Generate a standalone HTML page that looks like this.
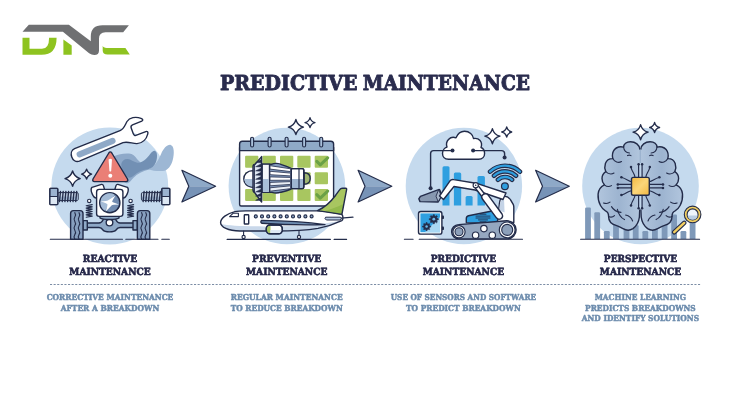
<!DOCTYPE html>
<html lang="en">
<head>
<meta charset="utf-8">
<title>Predictive Maintenance</title>
<style>
html,body{margin:0;padding:0;background:#fff;}
body{width:750px;height:400px;overflow:hidden;}
svg{display:block;will-change:transform;}
text{text-rendering:geometricPrecision;}
.t{font-family:"DejaVu Serif","Liberation Serif",serif;font-weight:bold;fill:#2a2c4e;text-anchor:middle;stroke:#2a2c4e;stroke-width:0.9;stroke-linejoin:round;}
.l{font-family:"DejaVu Serif","Liberation Serif",serif;font-weight:bold;fill:#26284a;text-anchor:middle;font-size:9.8px;stroke:#26284a;stroke-width:0.6;stroke-linejoin:round;}
.d{font-family:"DejaVu Serif","Liberation Serif",serif;font-weight:bold;fill:#6d8cad;text-anchor:middle;font-size:8.2px;stroke:#6d8cad;stroke-width:0.45;stroke-linejoin:round;}
.o{stroke:#222b49;stroke-width:1.4;stroke-linejoin:round;stroke-linecap:round;}
</style>
</head>
<body>
<svg width="750" height="400" viewBox="0 0 750 400">
<rect width="750" height="400" fill="#ffffff"/>
<g id="logo">
<path d="M28.8 24.8 H68.9 L90.8 41.3 V36.5 Q90.8 25.2 102.5 25.2 H128.9 L123.2 32.3 H105.5 Q99 32.3 99 38.8 V50.5 Q99 55 94.3 55 Q91.5 55 89.1 53.2 L62.9 31.8 H22.5 Z" fill="#6f7072"/>
<path d="M22.5 37.8 H29.5 V48.8 H42 Q49.1 48.8 49.1 37.8 H56.6 Q56.6 54.85 41.5 54.85 H22.5 Z" fill="#8ec320"/>
<path d="M63.4 39.4 L71.7 45.6 V54.85 H63.4 Z" fill="#8ec320"/>
<path d="M102.7 45.8 Q103.3 47.9 106.7 47.9 H125.4 L129.8 54.6 H107.5 Q102.7 54.6 102.7 50.5 Z" fill="#8ec320"/>
</g>
<text class="t" y="89.8" font-size="20.6" style="text-anchor:start"><tspan x="220" textLength="137.4" lengthAdjust="spacingAndGlyphs">PREDICTIVE</tspan> <tspan x="362.7" textLength="167.4" lengthAdjust="spacingAndGlyphs">MAINTENANCE</tspan></text>
<line x1="50" y1="284.5" x2="701.5" y2="284.5" stroke="#7c8da5" stroke-width="1.2" stroke-dasharray="2.1 1.5"/>
<text class="l" x="110" y="262.1" textLength="54.4" lengthAdjust="spacingAndGlyphs">REACTIVE</text>
<text class="l" x="110" y="274.8" textLength="81.4" lengthAdjust="spacingAndGlyphs">MAINTENANCE</text>
<text class="l" x="286.7" y="262.1" textLength="69.3" lengthAdjust="spacingAndGlyphs">PREVENTIVE</text>
<text class="l" x="286.7" y="274.8" textLength="81.4" lengthAdjust="spacingAndGlyphs">MAINTENANCE</text>
<text class="l" x="463.4" y="262.1" textLength="65.3" lengthAdjust="spacingAndGlyphs">PREDICTIVE</text>
<text class="l" x="463.4" y="274.8" textLength="81.4" lengthAdjust="spacingAndGlyphs">MAINTENANCE</text>
<text class="l" x="640.5" y="262.1" textLength="73.3" lengthAdjust="spacingAndGlyphs">PERSPECTIVE</text>
<text class="l" x="640.5" y="274.8" textLength="81.4" lengthAdjust="spacingAndGlyphs">MAINTENANCE</text>
<text class="d" x="110" y="299.6" textLength="126.7" lengthAdjust="spacingAndGlyphs">CORRECTIVE MAINTENANCE</text>
<text class="d" x="110" y="310.5" textLength="98.6" lengthAdjust="spacingAndGlyphs">AFTER A BREAKDOWN</text>
<text class="d" x="286.7" y="299.6" textLength="112" lengthAdjust="spacingAndGlyphs">REGULAR MAINTENANCE</text>
<text class="d" x="286.7" y="310.5" textLength="112" lengthAdjust="spacingAndGlyphs">TO REDUCE BREAKDOWN</text>
<text class="d" x="463.4" y="299.6" textLength="145.3" lengthAdjust="spacingAndGlyphs">USE OF SENSORS AND SOFTWARE</text>
<text class="d" x="463.4" y="310.5" textLength="114.7" lengthAdjust="spacingAndGlyphs">TO PREDICT BREAKDOWN</text>
<text class="d" x="640.4" y="299.6" textLength="91.5" lengthAdjust="spacingAndGlyphs">MACHINE LEARNING</text>
<text class="d" x="640.4" y="310.5" textLength="110.7" lengthAdjust="spacingAndGlyphs">PREDICTS BREAKDOWNS</text>
<text class="d" x="640.4" y="321.4" textLength="117.3" lengthAdjust="spacingAndGlyphs">AND IDENTIFY SOLUTIONS</text>
<g id="ill1">
<circle cx="109.8" cy="186" r="58.4" fill="#c5daee"/>
<path d="M148.5 169.2 C154.5 167.2 158.2 160.5 161.2 153.7 C163.5 148.5 167.2 144.3 170.7 144.9 C174.3 145.8 174.4 153.7 172.8 159.7 C171.3 165.7 168.0 170.4 162.7 171.0 C157.5 171.4 152.2 170.7 148.5 169.2 Z" fill="#9db7d4"/>
<path d="M111.0 157.5 C117.0 154.5 123.0 153.3 129.0 153.6 C132.7 153.7 135.0 156.0 137.2 159.3 C141.0 162.7 147.0 169.5 150.0 169.2 C142.5 171.0 137.2 174.0 133.5 177.7 C131.2 180.0 129.7 182.7 127.5 183.3 C123.0 183.3 114.0 172.5 111.0 157.5 Z" fill="#8ea9c9"/>
<path d="M121.2 164.2 C121.8 160.8 124.5 158.7 127.8 159.0 C130.8 159.3 133.5 162.0 137.2 162.7 C141.7 163.5 146.2 159.0 150.0 154.2 C151.8 151.8 153.7 150.3 155.2 150.9 C157.5 152.1 157.5 157.5 156.0 162.0 C154.5 166.2 151.5 168.7 147.7 169.2 C141.7 169.8 137.2 172.5 134.2 175.2 C132.0 177.3 129.0 178.5 127.5 177.0 C124.5 174.0 121.2 168.7 121.2 164.2 Z" fill="#7290b4"/>
<path d="M50.3 239.3 H122.5 M125.8 239.3 H158 M161.8 239.3 H169.3" stroke="#242d4b" stroke-width="1.1" fill="none" stroke-linecap="round"/>
<path class="o" d="M74.6 148.6 L120 130.6 C124 129 125 125 127 121.5 C129.5 117.5 135.5 116.3 141 118.3 C143 119 143.3 120.6 141.8 121.2 L132.5 124.8 C131 125.4 130.7 126.5 131.2 128 L133.2 133.6 C133.8 135.3 135 135.8 136.5 135.2 L145.8 131.6 C147.3 131 148.3 132 147.8 133.8 C146.5 139 142.5 143.3 137 143.6 C132.5 143.8 128 141 123 142.6 L79.4 161.1 C72 164 68 151.4 74.6 148.6 Z" fill="#fff"/>
<path d="M79.6 154.4 L112.6 140.9" stroke="#8fa9c7" stroke-width="6" stroke-linecap="round" fill="none"/>
<path class="o" d="M72.6 171.0 Q74.27199999999999 176.928 80.19999999999999 178.6 Q74.27199999999999 180.272 72.6 186.2 Q70.928 180.272 65.0 178.6 Q70.928 176.928 72.6 171.0 Z" fill="#fff"/>
<path class="o" d="M86.6 169.1 Q87.69999999999999 173.0 91.6 174.1 Q87.69999999999999 175.2 86.6 179.1 Q85.5 175.2 81.6 174.1 Q85.5 173.0 86.6 169.1 Z" fill="#fff"/>
<rect x="57.8" y="192.6" width="20.400000000000006" height="7.8" rx="1.2" fill="#c3d3e6" stroke="#242d4b" stroke-width="1"/><rect x="58.3" y="196.6" width="19.400000000000006" height="3.3" fill="#9fb6d2"/><path d="M60.50 191.4 L59.50 201.6" stroke="#242d4b" stroke-width="1.35" fill="none" stroke-linecap="round"/><path d="M63.20 191.4 L62.20 201.6" stroke="#242d4b" stroke-width="1.35" fill="none" stroke-linecap="round"/><path d="M65.90 191.4 L64.90 201.6" stroke="#242d4b" stroke-width="1.35" fill="none" stroke-linecap="round"/><path d="M68.60 191.4 L67.60 201.6" stroke="#242d4b" stroke-width="1.35" fill="none" stroke-linecap="round"/><path d="M71.30 191.4 L70.30 201.6" stroke="#242d4b" stroke-width="1.35" fill="none" stroke-linecap="round"/><path d="M74.00 191.4 L73.00 201.6" stroke="#242d4b" stroke-width="1.35" fill="none" stroke-linecap="round"/><path d="M76.70 191.4 L75.70 201.6" stroke="#242d4b" stroke-width="1.35" fill="none" stroke-linecap="round"/><rect x="49.8" y="188.3" width="8.0" height="16.4" rx="0.8" fill="#9bb3d0" stroke="#242d4b" stroke-width="1"/><rect x="50.3" y="196.5" width="7.0" height="7.7" fill="#dce7f3"/><path d="M49.8 196.5 H57.8" stroke="#242d4b" stroke-width="1" fill="none"/><rect x="49.8" y="188.3" width="8.0" height="16.4" rx="0.8" fill="none" stroke="#242d4b" stroke-width="1.3"/>
<rect x="141.4" y="192.6" width="20.400000000000006" height="7.8" rx="1.2" fill="#c3d3e6" stroke="#242d4b" stroke-width="1"/><rect x="141.9" y="196.6" width="19.400000000000006" height="3.3" fill="#9fb6d2"/><path d="M144.10 191.4 L143.10 201.6" stroke="#242d4b" stroke-width="1.35" fill="none" stroke-linecap="round"/><path d="M146.80 191.4 L145.80 201.6" stroke="#242d4b" stroke-width="1.35" fill="none" stroke-linecap="round"/><path d="M149.50 191.4 L148.50 201.6" stroke="#242d4b" stroke-width="1.35" fill="none" stroke-linecap="round"/><path d="M152.20 191.4 L151.20 201.6" stroke="#242d4b" stroke-width="1.35" fill="none" stroke-linecap="round"/><path d="M154.90 191.4 L153.90 201.6" stroke="#242d4b" stroke-width="1.35" fill="none" stroke-linecap="round"/><path d="M157.60 191.4 L156.60 201.6" stroke="#242d4b" stroke-width="1.35" fill="none" stroke-linecap="round"/><path d="M160.30 191.4 L159.30 201.6" stroke="#242d4b" stroke-width="1.35" fill="none" stroke-linecap="round"/><rect x="161.8" y="188.3" width="8.0" height="16.4" rx="0.8" fill="#9bb3d0" stroke="#242d4b" stroke-width="1"/><rect x="162.3" y="196.5" width="7.0" height="7.7" fill="#dce7f3"/><path d="M161.8 196.5 H169.8" stroke="#242d4b" stroke-width="1" fill="none"/><rect x="161.8" y="188.3" width="8.0" height="16.4" rx="0.8" fill="none" stroke="#242d4b" stroke-width="1.3"/>
<path class="o" d="M83 223 H99 C101 223 102 222 103 220 C104 216 107 215 109.5 215 C112 215 115 216 116 220 C117 222 118 223 120 223 H137.5 V227.5 H120 C118 227.5 117 228.5 116 230 C114 232.5 105 232.5 103 230 C102 228.5 101 227.5 99 227.5 H83 Z" fill="#8fa9c7"/>
<rect class="o" x="83" y="220.6" width="4.3" height="9.4" fill="#8fa9c7"/>
<rect class="o" x="133" y="220.6" width="4.3" height="9.4" fill="#8fa9c7"/>
<circle class="o" cx="109.5" cy="222.6" r="3.3" fill="#fff"/>
<path class="o" d="M70.6 239.2 V213.4 Q70.6 210.6 73.39999999999999 210.6 H80.19999999999999 Q83.0 210.6 83.0 213.4 V239.2 Z" fill="#879fbf"/><path d="M74.8 212.6 q1.5 2.2 0 4.4 q-1.5 2.2 0 4.4 q1.5 2.2 0 4.4 q-1.5 2.2 0 4.4 q1.5 2.2 0 4.4 q-1.5 2.2 0 4.4" stroke="#242d4b" stroke-width="1.1" fill="none" stroke-linecap="round"/><path d="M79.0 212.6 q1.5 2.2 0 4.4 q-1.5 2.2 0 4.4 q1.5 2.2 0 4.4 q-1.5 2.2 0 4.4 q1.5 2.2 0 4.4 q-1.5 2.2 0 4.4" stroke="#242d4b" stroke-width="1.1" fill="none" stroke-linecap="round"/>
<path class="o" d="M137.4 239.2 V213.4 Q137.4 210.6 140.20000000000002 210.6 H147.0 Q149.8 210.6 149.8 213.4 V239.2 Z" fill="#879fbf"/><path d="M141.6 212.6 q1.5 2.2 0 4.4 q-1.5 2.2 0 4.4 q1.5 2.2 0 4.4 q-1.5 2.2 0 4.4 q1.5 2.2 0 4.4 q-1.5 2.2 0 4.4" stroke="#242d4b" stroke-width="1.1" fill="none" stroke-linecap="round"/><path d="M145.8 212.6 q1.5 2.2 0 4.4 q-1.5 2.2 0 4.4 q1.5 2.2 0 4.4 q-1.5 2.2 0 4.4 q1.5 2.2 0 4.4 q-1.5 2.2 0 4.4" stroke="#242d4b" stroke-width="1.1" fill="none" stroke-linecap="round"/>
<path d="M92.2 204.6 L86.2 205.75 L92.2 206.90 L86.2 208.05 L92.2 209.20 L86.2 210.35 L92.2 211.50 L86.2 212.65 L92.2 213.80 L86.2 214.95 L92.2 216.10 L86.2 217.25" stroke="#242d4b" stroke-width="1.2" fill="none" stroke-linecap="round" stroke-linejoin="round"/><circle cx="89.2" cy="200.9" r="1.7" fill="#fff" stroke="#242d4b" stroke-width="1.1"/>
<path d="M133.6 204.6 L127.6 205.75 L133.6 206.90 L127.6 208.05 L133.6 209.20 L127.6 210.35 L133.6 211.50 L127.6 212.65 L133.6 213.80 L127.6 214.95 L133.6 216.10 L127.6 217.25" stroke="#242d4b" stroke-width="1.2" fill="none" stroke-linecap="round" stroke-linejoin="round"/><circle cx="130.6" cy="200.9" r="1.7" fill="#fff" stroke="#242d4b" stroke-width="1.1"/>
<path class="o" d="M92 187.3 L101.5 184.4 Q103 184.2 103.4 185.6 L105 191 L96.5 198 C93.5 198.5 89.5 190 92 187.3 Z" fill="#fff"/>
<path class="o" d="M127.4 187.3 L117.9 184.4 Q116.4 184.2 116 185.6 L114.4 191 L122.9 198 C125.9 198.5 129.9 190 127.4 187.3 Z" fill="#fff"/>
<path class="o" d="M100 214 H119 V218 C116 220 103 220 100 218 Z" fill="#8fa9c7"/>
<rect class="o" x="96.6" y="189.4" width="26.3" height="27" rx="2.6" fill="#fff"/>
<circle class="o" cx="109.8" cy="202.7" r="10.1" fill="#708bb0"/>
<path d="M109.8 202.7 m-9.4 0 a9.4 9.4 0 0 1 14.2 -8 L105 210.8 a9.4 9.4 0 0 1 -4.6 -8.1 Z" fill="#a4bbd6"/>
<path d="M115.6 195.4 Q112 200.8 112.2 201.8 Q113 202.6 119 204.4 Q112.6 204.6 111.8 205.2 Q111 206 105.6 211.6 Q107.8 205.2 107.4 204.2 Q106.6 203.4 100.6 201.6 Q107 201.2 107.8 200.6 Q108.8 199.8 115.6 195.4 Z" fill="#fff"/>
<path class="o" d="M108.8 153 Q110.3 150.8 111.8 153 L127.5 179 Q128.6 181.6 126 181.6 H94.5 Q92 181.6 93 179 Z" fill="#ea7f76"/>
<path d="M108.6 159.5 Q110.3 158 112 159.5 L111.2 171 Q110.3 172 109.4 171 Z" fill="#fff"/>
<circle cx="110.3" cy="175.8" r="2" fill="#fff"/>
</g>
<g id="ill2">
<circle cx="286.9" cy="186" r="58.3" fill="#c5daee"/>
<path d="M227.1 239.4 H330.4 M334.1 239.4 H346.6" stroke="#242d4b" stroke-width="1.1" fill="none" stroke-linecap="round"/>
<rect class="o" x="239.6" y="146" width="94" height="60" rx="1.5" fill="#fff"/>
<rect x="245.1" y="155.8" width="13.3" height="12" rx="1" fill="#a8c660"/>
<rect x="262.5" y="155.8" width="13.3" height="12" rx="1" fill="#a8c660"/>
<rect x="280" y="155.8" width="13.3" height="12" rx="1" fill="#a8c660"/>
<rect x="297.3" y="155.8" width="13.3" height="12" rx="1" fill="#a8c660"/>
<rect x="314.7" y="155.8" width="13.3" height="12" rx="1" fill="#a8c660"/>
<rect x="245.1" y="172.3" width="13.3" height="12" rx="1" fill="#a8c660"/>
<rect x="262.5" y="172.3" width="13.3" height="12" rx="1" fill="#a8c660"/>
<rect x="280" y="172.3" width="13.3" height="12" rx="1" fill="#a8c660"/>
<rect x="297.3" y="172.3" width="13.3" height="12" rx="1" fill="#a8c660"/>
<rect x="314.7" y="172.3" width="13.3" height="12" rx="1" fill="#a8c660"/>
<rect x="245.1" y="189" width="13.3" height="12" rx="1" fill="#a8c660"/>
<rect x="262.5" y="189" width="13.3" height="12" rx="1" fill="#a8c660"/>
<rect x="280" y="189" width="13.3" height="12" rx="1" fill="#a8c660"/>
<rect x="297.3" y="189" width="13.3" height="12" rx="1" fill="#a8c660"/>
<rect x="314.7" y="189" width="13.3" height="12" rx="1" fill="#a8c660"/>
<path d="M316.8 161.4 l3.5 3.5 l7.4 -7" stroke="#6ba146" stroke-width="3" fill="none" stroke-linecap="round" stroke-linejoin="round"/>
<path d="M316.8 194.6 l3.5 3.5 l7.4 -7" stroke="#6ba146" stroke-width="3" fill="none" stroke-linecap="round" stroke-linejoin="round"/>
<path class="o" d="M239.6 150.6 V144 Q239.6 141.2 242.4 141.2 H330.8 Q333.6 141.2 333.6 144 V150.6 Z" fill="#8fa9c7"/>
<rect x="250.6" y="137.2" width="3" height="9.8" rx="1.5" fill="#a9c0db" stroke="#242d4b" stroke-width="1.15"/>
<rect x="268.1" y="137.2" width="3" height="9.8" rx="1.5" fill="#a9c0db" stroke="#242d4b" stroke-width="1.15"/>
<rect x="285.1" y="137.2" width="3" height="9.8" rx="1.5" fill="#a9c0db" stroke="#242d4b" stroke-width="1.15"/>
<rect x="302.6" y="137.2" width="3" height="9.8" rx="1.5" fill="#a9c0db" stroke="#242d4b" stroke-width="1.15"/>
<rect x="319.7" y="137.2" width="3" height="9.8" rx="1.5" fill="#a9c0db" stroke="#242d4b" stroke-width="1.15"/>
<path d="M295.9 119.5 Q297.42 125.58 303.5 127.1 Q297.42 128.62 295.9 134.7 Q294.38 128.62 288.29999999999995 127.1 Q294.38 125.58 295.9 119.5 Z" fill="#fff" stroke="#242d4b" stroke-width="1.3" stroke-linejoin="round"/>
<path d="M310 117.6 Q311.00 121.60 315 122.6 Q311.00 123.60 310 127.6 Q309.00 123.60 305 122.6 Q309.00 121.60 310 117.6 Z" fill="#fff" stroke="#242d4b" stroke-width="1.3" stroke-linejoin="round"/>
<path class="o" d="M304 172.8 C308.6 172.8 310.2 175.6 310.2 178.5 C310.2 181.4 308.6 184.2 304 184.2 Z" fill="#9fb673"/>
<rect class="o" x="291" y="168.6" width="12.8" height="20" rx="1.5" fill="#fff"/>
<path d="M291.5 179 H303.3 V187 Q303.3 188.1 302 188.1 H291.5 Z" fill="#9fb6d2"/>
<path d="M299 168.8 V188.4" stroke="#242d4b" stroke-width="1.15" fill="none"/>
<rect class="o" x="291" y="168.6" width="12.8" height="20" rx="1.5" fill="none"/>
<path class="o" d="M253.5 170.6 C246.5 170.6 243.8 175 243.8 179 C243.8 183 246.5 187.2 253.5 187.2 Z" fill="#fff"/>
<path d="M253.2 179 H244.4 C244.6 183 247 186.6 253.2 186.6 Z" fill="#a9bfd9"/>
<path class="o" d="M262 164.2 H272 C274 163 279 163.2 281.5 164.6 C285 165.6 288.5 167 291.2 168.4 V189 C288 190.6 284 191.6 281 192.2 C278 193.2 274 193 272 192.4 H262 Z" fill="#8198bb"/>
<path d="M270 165.7 L290.6 168.8 V171.6 L270 169.1 Z" fill="#fff" stroke="#242d4b" stroke-width="0.8" stroke-linejoin="round"/>
<path d="M270 171.3 L290.6 173.1 V175.9 L270 174.7 Z" fill="#fff" stroke="#242d4b" stroke-width="0.8" stroke-linejoin="round"/>
<path d="M270 176.9 L290.6 177.4 V180.2 L270 180.3 Z" fill="#fff" stroke="#242d4b" stroke-width="0.8" stroke-linejoin="round"/>
<path d="M270 182.4 L290.6 181.6 V184.4 L270 185.8 Z" fill="#e9eff7" stroke="#242d4b" stroke-width="0.8" stroke-linejoin="round"/>
<path d="M270 187.8 L290.6 185.8 V188.6 L270 191.2 Z" fill="#e9eff7" stroke="#242d4b" stroke-width="0.8" stroke-linejoin="round"/>
<rect x="262" y="164.2" width="7.4" height="28.2" fill="#f4f7fb" stroke="#242d4b" stroke-width="1.15"/>
<rect x="262.6" y="179" width="6.2" height="12.8" fill="#a9bfd9"/>
<path class="o" d="M262 164.2 V192.4 H255.5 Q253 192.4 253 190 V166.6 Q253 164.2 255.5 164.2 Z" fill="#dfe8f4"/>
<path class="o" d="M261.6 156.6 V202 L254.2 192 V165.4 Z" fill="#dfe8f4"/>
<path d="M261.4 159.5 L255.6 162.5 L261.4 162.8 Z M261.4 163.7 L255.6 166.7 L261.4 167.0 Z M261.4 167.9 L255.6 170.9 L261.4 171.2 Z M261.4 172.1 L255.6 175.1 L261.4 175.4 Z M261.4 176.3 L255.6 179.3 L261.4 179.6 Z M261.4 180.5 L255.6 183.5 L261.4 183.8 Z M261.4 184.7 L255.6 187.7 L261.4 188.0 Z M261.4 188.9 L255.6 191.9 L261.4 192.2 Z M261.4 193.1 L255.6 196.1 L261.4 196.4 Z M261.4 197.3 L255.6 200.3 L261.4 200.6 Z " fill="#242d4b" stroke="#242d4b" stroke-width="0.5" stroke-linejoin="round"/>
<path d="M220.6 222.5 C220.6 218 227 213.5 235 211.6 C238 211 242 210.9 246 210.9 H318 C326 211.2 334 212.6 341.6 214.3 C343.4 215.4 343.4 219.6 341.8 220.6 C336 223.4 328 226.4 318 228.4 C305 230.5 290 231 275 231 H240 C228 231 220.6 227 220.6 222.5 Z" fill="#fff"/>
<path d="M221 224 C230 226 250 226.5 275 226.5 C300 226.5 322 224.5 341 220.8 C335 223.6 328 226.4 318 228.4 C305 230.5 290 231 275 231 H240 C229 231 222 228 221 224 Z" fill="#c9d8ea"/>
<path class="o" d="M220.6 222.5 C220.6 218 227 213.5 235 211.6 C238 211 242 210.9 246 210.9 H318 C326 211.2 334 212.6 341.6 214.3 C343.4 215.4 343.4 219.6 341.8 220.6 C336 223.4 328 226.4 318 228.4 C305 230.5 290 231 275 231 H240 C228 231 220.6 227 220.6 222.5 Z" fill="none"/>
<path d="M317.5 210.6 C325 207.5 331 201.5 335.5 195.5 C337.5 192.8 339 190.4 340.6 188.8 Q341.4 188.2 342.6 188.2 H345.8 Q346.9 188.3 346.6 189.6 L341.9 214.4 Z" fill="#a8c660"/>
<path d="M323 211.4 C330 209.8 338 207 344 203.6 L341.9 214.4 Z" fill="#93ba4c"/>
<path class="o" d="M317.5 210.6 C325 207.5 331 201.5 335.5 195.5 C337.5 192.8 339 190.4 340.6 188.8 Q341.4 188.2 342.6 188.2 H345.8 Q346.9 188.3 346.6 189.6 L341.9 214.4 Z" fill="none"/>
<path d="M229.6 216.6 L233 213.3 H238.4 V216.6 Z" fill="#fff" stroke="#242d4b" stroke-width="1.1" stroke-linejoin="round"/>
<rect class="o" x="244.3" y="214.8" width="4.4" height="9.2" rx="0.6" fill="#fff"/>
<circle cx="255.8" cy="216.4" r="1.5" fill="#8fa9c7" stroke="#242d4b" stroke-width="1.15"/>
<circle cx="262.0" cy="216.4" r="1.5" fill="#8fa9c7" stroke="#242d4b" stroke-width="1.15"/>
<circle cx="268.2" cy="216.4" r="1.5" fill="#8fa9c7" stroke="#242d4b" stroke-width="1.15"/>
<circle cx="274.4" cy="216.4" r="1.5" fill="#8fa9c7" stroke="#242d4b" stroke-width="1.15"/>
<circle cx="280.6" cy="216.4" r="1.5" fill="#8fa9c7" stroke="#242d4b" stroke-width="1.15"/>
<circle cx="286.8" cy="216.4" r="1.5" fill="#8fa9c7" stroke="#242d4b" stroke-width="1.15"/>
<circle cx="293.0" cy="216.4" r="1.5" fill="#8fa9c7" stroke="#242d4b" stroke-width="1.15"/>
<circle cx="299.2" cy="216.4" r="1.5" fill="#8fa9c7" stroke="#242d4b" stroke-width="1.15"/>
<circle cx="305.4" cy="216.4" r="1.5" fill="#8fa9c7" stroke="#242d4b" stroke-width="1.15"/>
<circle cx="311.6" cy="216.4" r="1.5" fill="#8fa9c7" stroke="#242d4b" stroke-width="1.15"/>
<path d="M341 218.2 L353 217.2" stroke="#242d4b" stroke-width="1.2" fill="none" stroke-linecap="round"/>
<path d="M325.6 217.2 H340.5 Q342 218.6 340.5 220 H326.4 Q324 218.6 325.6 217.2 Z" fill="#b4c8e0" stroke="#242d4b" stroke-width="1" stroke-linejoin="round"/>
<path class="o" d="M261.5 220.4 Q260 222.5 262 223.3 C280 224.6 305 225.2 325 224.6 C310 222.4 285 220.6 261.5 220.4 Z" fill="#6f8db1"/>
<rect class="o" x="266.3" y="225" width="16" height="8.8" rx="3.8" fill="#fff"/>
<path d="M270.5 225.5 C267 225.5 266.8 229 266.8 229.4 C266.8 230 267 233.3 270.5 233.3 Z" fill="#a8c660"/>
<path d="M270.5 230 H282 C281.6 232 280.3 233.3 278.5 233.3 H270.5 Z" fill="#dfe8f4"/>
<rect class="o" x="266.3" y="225" width="16" height="8.8" rx="3.8" fill="none"/>
<path d="M243.6 230.8 V235.5" stroke="#242d4b" stroke-width="1.1" fill="none"/>
<circle cx="243.6" cy="237" r="1.6" fill="#fff" stroke="#242d4b" stroke-width="1.15"/>
<path d="M299 230.8 V235.5" stroke="#242d4b" stroke-width="1.1" fill="none"/>
<circle cx="299" cy="237" r="1.6" fill="#fff" stroke="#242d4b" stroke-width="1.15"/>
</g>
<g id="ill3">
<circle cx="463.9" cy="186" r="58.2" fill="#c5daee"/>
<path d="M404.4 239.3 H413.1 M419.2 239.3 H522.5" stroke="#242d4b" stroke-width="1.1" fill="none" stroke-linecap="round"/>
<path d="M442.5 205.6 V167.8 Q442.5 166.3 444.0 166.3 H448.0 Q449.5 166.3 449.5 167.8 V205.6 Z" fill="#2f9fe0"/>
<path d="M453.9 205.6 V174.1 Q453.9 172.6 455.4 172.6 H459.7 Q461.2 172.6 461.2 174.1 V205.6 Z" fill="#2f9fe0"/>
<path d="M465.6 205.6 V197.5 Q465.6 196 467.1 196 H471.1 Q472.6 196 472.6 197.5 V205.6 Z" fill="#2f9fe0"/>
<path d="M477.5 205.6 V177.6 Q477.5 176.1 479.0 176.1 H483.4 Q484.9 176.1 484.9 177.6 V205.6 Z" fill="#2f9fe0"/>
<path d="M452.5 150.6 H433.6 Q430.6 150.6 430.6 153.6 V187.5" stroke="#242d4b" stroke-width="1.4" fill="none"/>
<path d="M473.1 150.6 H501.5 Q504.6 150.6 504.6 153.6 V157" stroke="#242d4b" stroke-width="1.4" fill="none"/>
<circle cx="430.6" cy="188.2" r="2" fill="#242d4b"/>
<circle cx="504.6" cy="157.4" r="2" fill="#242d4b"/>
<path class="o" d="M448.5 159.3 C444.5 159.3 442.5 156.5 442.5 153.5 C442.5 150 445 147.6 447 147 C445 141.5 450 135.5 456 137.8 C458 133 461 131.3 464.5 131.3 C469.5 131.3 473 135 473.5 138.5 C479 137.5 483 142 481 147.5 C483.5 148.5 484.6 151 484.6 153.5 C484.6 156.5 482.5 159.3 478.5 159.3 Z" fill="#fff"/>
<path d="M442.7 150.6 H452.5 M473.1 150.6 H484.4" stroke="#242d4b" stroke-width="1.4" fill="none"/>
<circle cx="452.5" cy="150.6" r="2" fill="#242d4b"/>
<circle cx="473.1" cy="150.6" r="2" fill="#242d4b"/>
<path d="M492.4 128.6 Q493.92 134.68 500.0 136.2 Q493.92 137.72 492.4 143.79999999999998 Q490.88 137.72 484.79999999999995 136.2 Q490.88 134.68 492.4 128.6 Z" fill="#fff" stroke="#242d4b" stroke-width="1.3" stroke-linejoin="round"/>
<path d="M506.7 127 Q507.70 131.00 511.7 132 Q507.70 133.00 506.7 137 Q505.70 133.00 501.7 132 Q505.70 131.00 506.7 127 Z" fill="#fff" stroke="#242d4b" stroke-width="1.3" stroke-linejoin="round"/>
<path d="M490.06 171.66 A21.7 21.7 0 0 1 519.94 171.66" stroke="#242d4b" stroke-width="4.6" fill="none" stroke-linecap="round"/>
<path d="M490.06 171.66 A21.7 21.7 0 0 1 519.94 171.66" stroke="#2f9fe0" stroke-width="2.3" fill="none" stroke-linecap="round"/>
<path d="M493.99 175.79 A16 16 0 0 1 516.01 175.79" stroke="#242d4b" stroke-width="4.6" fill="none" stroke-linecap="round"/>
<path d="M493.99 175.79 A16 16 0 0 1 516.01 175.79" stroke="#2f9fe0" stroke-width="2.3" fill="none" stroke-linecap="round"/>
<path d="M497.91 179.79 A10.4 10.4 0 0 1 512.09 179.79" stroke="#242d4b" stroke-width="4.6" fill="none" stroke-linecap="round"/>
<path d="M497.91 179.79 A10.4 10.4 0 0 1 512.09 179.79" stroke="#2f9fe0" stroke-width="2.3" fill="none" stroke-linecap="round"/>
<circle cx="504.9" cy="186.3" r="3.4" fill="#2f9fe0" stroke="#242d4b" stroke-width="1.2"/>
<rect x="441" y="215.5" width="3" height="3.6" rx="0.8" fill="#242d4b"/>
<rect x="441" y="226.5" width="3" height="3.6" rx="0.8" fill="#242d4b"/>
<rect class="o" x="418.5" y="211.5" width="23.4" height="22.6" rx="2.2" fill="#fff"/>
<rect x="420.4" y="213.4" width="19.6" height="18.8" fill="#2f9fe0"/>
<path d="M440 217 V232.2 H424.8 Z" fill="#a8d8f4"/>
<path d="M437.12 218.47 L438.37 218.66 L438.37 219.74 L437.12 219.93 L436.67 221.04 L437.41 222.05 L436.65 222.81 L435.64 222.07 L434.53 222.52 L434.34 223.77 L433.26 223.77 L433.07 222.52 L431.96 222.07 L430.95 222.81 L430.19 222.05 L430.93 221.04 L430.48 219.93 L429.23 219.74 L429.23 218.66 L430.48 218.47 L430.93 217.36 L430.19 216.35 L430.95 215.59 L431.96 216.33 L433.07 215.88 L433.26 214.63 L434.34 214.63 L434.53 215.88 L435.64 216.33 L436.65 215.59 L437.41 216.35 L436.67 217.36 Z" fill="#242d4b" stroke="#242d4b" stroke-width="0.6" stroke-linejoin="round"/><circle cx="433.8" cy="219.2" r="1.38" fill="#6bb8ea"/>
<path d="M429.56 225.95 L430.67 226.12 L430.67 227.08 L429.56 227.25 L429.16 228.24 L429.82 229.14 L429.14 229.82 L428.24 229.16 L427.25 229.56 L427.08 230.67 L426.12 230.67 L425.95 229.56 L424.96 229.16 L424.06 229.82 L423.38 229.14 L424.04 228.24 L423.64 227.25 L422.53 227.08 L422.53 226.12 L423.64 225.95 L424.04 224.96 L423.38 224.06 L424.06 223.38 L424.96 224.04 L425.95 223.64 L426.12 222.53 L427.08 222.53 L427.25 223.64 L428.24 224.04 L429.14 223.38 L429.82 224.06 L429.16 224.96 Z" fill="#242d4b" stroke="#242d4b" stroke-width="0.6" stroke-linejoin="round"/><circle cx="426.6" cy="226.6" r="1.23" fill="#6bb8ea"/>
<path class="o" d="M418.8 198.8 L420.4 196.4 L438.6 189.6 Q439.6 189.4 440 190.4 L441.6 196 L438.2 202 L420 201.6 Z" fill="#8798b0"/>
<path d="M438.6 189.8 L441.4 196 L438.2 201.8 L436 196.2 Z" fill="#a9b7ca" stroke="#242d4b" stroke-width="0.9" stroke-linejoin="round"/>
<path class="o" d="M466.3 222.6 V218.5 Q466.3 216.3 468.5 215.8 L497 210 L499 223 Z" fill="#2f9fe0"/>
<path d="M476 218 H490 M478.5 219.9 H487.5 M476 216.1 H490 M480 214.2 H486 M480 221.8 H486" stroke="#242d4b" stroke-width="0.9" fill="none" stroke-linecap="round"/>
<path class="o" d="M497.4 222.4 L499.5 203 C500 199 502 196.4 505 196.4 C507.5 196.4 509 197.6 510.4 199.6 L513.2 204.4 Q513.8 205.6 513.8 207 V222.4 Z" fill="#fff"/>
<path d="M499.8 204.5 C500.4 201 502 198.6 504 198.4 L504.6 212.5 L499.2 210.5 Z" fill="#c4d3e6"/>
<path class="o" d="M458.6 224.6 L506.6 220.8 A9 9 0 0 1 507.4 238.9 L459 238.9 A7.15 7.15 0 0 1 458.6 224.6 Z" fill="#95a7c0"/>
<circle cx="459" cy="231.8" r="6.1" fill="#fff" stroke="#242d4b" stroke-width="1.2"/>
<circle cx="459" cy="231.8" r="4" fill="#8da0ba" stroke="#242d4b" stroke-width="1.1"/>
<circle cx="507.2" cy="229.9" r="7.9" fill="#fff" stroke="#242d4b" stroke-width="1.2"/>
<circle cx="507.2" cy="229.9" r="5.5" fill="#8da0ba" stroke="#242d4b" stroke-width="1.1"/>
<circle cx="475.6" cy="235.2" r="3.2" fill="#fff" stroke="#242d4b" stroke-width="1.2"/>
<circle cx="483.9" cy="228.6" r="3.2" fill="#fff" stroke="#242d4b" stroke-width="1.2"/>
<circle cx="492.3" cy="235.2" r="3.2" fill="#fff" stroke="#242d4b" stroke-width="1.2"/>
<path class="o" d="M439.5 196 L450 180.8 Q451.5 179 453.8 179.6 L476 183.2 L506 193 L503 199.5 L475 190 L454 186.5 L443.5 199.5 Z" fill="#fff"/>
<path class="o" d="M474.2 186.6 L477.2 184.4 L485 194.5 L482 196.8 Z" fill="#fff"/>
<path class="o" d="M482.6 195 C484.5 193.2 487 193.5 488.2 195.2 L502 214 C503 215.8 502.5 217.6 501 218.6 C499.4 219.6 497.5 219.2 496.4 217.8 L482.4 199 C481.4 197.6 481.4 196 482.6 195 Z" fill="#fff"/>
<circle cx="475.7" cy="185.2" r="2.6" fill="#fff" stroke="#242d4b" stroke-width="1.1"/>
<circle cx="475.7" cy="185.2" r="0.8" fill="#242d4b"/>
</g>
<defs><linearGradient id="brg" x1="0" y1="0" x2="1" y2="0"><stop offset="0" stop-color="#b1c5dd"/><stop offset="0.5" stop-color="#9db4d0"/><stop offset="1" stop-color="#b1c5dd"/></linearGradient>
<linearGradient id="chg" x1="0" y1="0" x2="1" y2="1"><stop offset="0" stop-color="#f3b840"/><stop offset="0.5" stop-color="#fbd67a"/><stop offset="1" stop-color="#f3b840"/></linearGradient></defs>
<g id="ill4">
<circle cx="640.5" cy="186" r="58.3" fill="#c5daee"/>
<path d="M585.1 239 V208.6 Q585.1 207.4 586.3000000000001 207.4 H589.7 Q590.9 207.4 590.9 208.6 V239 Z" fill="#7f99b9"/>
<path d="M594.3 239 V213.5 Q594.3 212.3 595.5 212.3 H598.9 Q600.0999999999999 212.3 600.0999999999999 213.5 V239 Z" fill="#7f99b9"/>
<path d="M603.9 239 V232.2 Q603.9 231 605.1 231 H608.5 Q609.6999999999999 231 609.6999999999999 232.2 V239 Z" fill="#7f99b9"/>
<path d="M613.1 239 V221.2 Q613.1 220 614.3000000000001 220 H617.7 Q618.9 220 618.9 221.2 V239 Z" fill="#7f99b9"/>
<path d="M623.6 239 V226.2 Q623.6 225 624.8000000000001 225 H628.2 Q629.4 225 629.4 226.2 V239 Z" fill="#7f99b9"/>
<path d="M632.8 239 V226.2 Q632.8 225 634.0 225 H637.4 Q638.5999999999999 225 638.5999999999999 226.2 V239 Z" fill="#7f99b9"/>
<path d="M642.4 239 V232.2 Q642.4 231 643.6 231 H647.0 Q648.1999999999999 231 648.1999999999999 232.2 V239 Z" fill="#7f99b9"/>
<path d="M652 239 V226.2 Q652 225 653.2 225 H656.6 Q657.8 225 657.8 226.2 V239 Z" fill="#7f99b9"/>
<path d="M661.7 239 V223.2 Q661.7 222 662.9000000000001 222 H666.3000000000001 Q667.5 222 667.5 223.2 V239 Z" fill="#7f99b9"/>
<path d="M671.2 239 V215.6 Q671.2 214.4 672.4000000000001 214.4 H675.8000000000001 Q677.0 214.4 677.0 215.6 V239 Z" fill="#7f99b9"/>
<path d="M680.5 239 V232.2 Q680.5 231 681.7 231 H685.1 Q686.3 231 686.3 232.2 V239 Z" fill="#7f99b9"/>
<path d="M689.7 239 V216.39999999999998 Q689.7 215.2 690.9000000000001 215.2 H694.3000000000001 Q695.5 215.2 695.5 216.39999999999998 V239 Z" fill="#7f99b9"/>
<path d="M580.6 239.3 H699.6" stroke="#242d4b" stroke-width="1.1" fill="none" stroke-linecap="round"/>
<path d="M640.6 124.6 Q642.12 130.68 648.2 132.2 Q642.12 133.72 640.6 139.79999999999998 Q639.08 133.72 633.0 132.2 Q639.08 130.68 640.6 124.6 Z" fill="#fff" stroke="#242d4b" stroke-width="1.3" stroke-linejoin="round"/>
<path d="M654.6 122.5 Q655.60 126.50 659.6 127.5 Q655.60 128.50 654.6 132.5 Q653.60 128.50 649.6 127.5 Q653.60 126.50 654.6 122.5 Z" fill="#fff" stroke="#242d4b" stroke-width="1.3" stroke-linejoin="round"/>
<g id="hemi"><path d="M639.8 149.2 C639.5 145 635.5 141.7 630.5 141.7 C626.5 141.7 623.5 144 623.6 147.2 C620.5 146 616.5 147 614.5 149.5 C612.5 152 612 155.5 612.8 158.6 C609.5 158.5 606.5 160.5 605.4 163.5 C604.4 166.5 604.8 169.5 605.8 171.6 C603.5 173 602 175.8 602 178.5 C602 181 603 183.3 604.4 184.8 C601 186.5 598.4 190 598.1 194 C597.8 198 598.6 202 600.5 205.5 C601.8 208 603.5 209.8 605.5 210.8 C607.6 211.6 608.6 214 608.6 216.5 C608.6 220.5 611 224 616 225.4 C619 226.3 621 227.6 623 228.6 C626 230.4 630 230.6 633 228.6 C636.5 226 638.8 222 639.4 217 L639.7 210 Z" fill="url(#brg)"/><path class="o" d="M639.8 149.2 C639.5 145 635.5 141.7 630.5 141.7 C626.5 141.7 623.5 144 623.6 147.2 C620.5 146 616.5 147 614.5 149.5 C612.5 152 612 155.5 612.8 158.6 C609.5 158.5 606.5 160.5 605.4 163.5 C604.4 166.5 604.8 169.5 605.8 171.6 C603.5 173 602 175.8 602 178.5 C602 181 603 183.3 604.4 184.8 C601 186.5 598.4 190 598.1 194 C597.8 198 598.6 202 600.5 205.5 C601.8 208 603.5 209.8 605.5 210.8 C607.6 211.6 608.6 214 608.6 216.5 C608.6 220.5 611 224 616 225.4 C619 226.3 621 227.6 623 228.6 C626 230.4 630 230.6 633 228.6 C636.5 226 638.8 222 639.4 217 L639.7 210" fill="none"/>
<path d="M623.6 147.2 C624 150.5 626.5 152.8 629.5 153" stroke="#242d4b" stroke-width="1.1" fill="none" stroke-linecap="round"/>
<path d="M612.8 158.6 C614.5 162 618.5 163.5 621.5 161.5" stroke="#242d4b" stroke-width="1.1" fill="none" stroke-linecap="round"/>
<path d="M605.8 171.6 C608 174 611.5 174.5 614 173" stroke="#242d4b" stroke-width="1.1" fill="none" stroke-linecap="round"/>
<path d="M604.4 184.8 C606.5 186.6 609.5 186.8 611.5 185.6" stroke="#242d4b" stroke-width="1.1" fill="none" stroke-linecap="round"/>
<path d="M603.5 203 C606 203.8 608.6 203.4 610 202.2" stroke="#242d4b" stroke-width="1.1" fill="none" stroke-linecap="round"/>
<path d="M611.5 206.6 C613.5 210 617 212 621 212.4" stroke="#242d4b" stroke-width="1.1" fill="none" stroke-linecap="round"/>
<path d="M617.4 209.4 C618.5 214 621 218 624.5 219.6" stroke="#242d4b" stroke-width="1.1" fill="none" stroke-linecap="round"/>
<path d="M625.6 215 C628.5 215.6 631.6 218 632.6 221" stroke="#242d4b" stroke-width="1.1" fill="none" stroke-linecap="round"/>
<path d="M627.5 155.6 C628.6 155 630 155 631 155.6" stroke="#242d4b" stroke-width="1.1" fill="none" stroke-linecap="round"/>
<path d="M608.6 216.5 C610.5 217.4 613 217 614.5 215.6" stroke="#242d4b" stroke-width="1.1" fill="none" stroke-linecap="round"/>
</g>
<use href="#hemi" transform="translate(1280.6 0) scale(-1 1)"/>
<path d="M640.2 149 V163" stroke="#8ba4c3" stroke-width="1" fill="none"/>
<path d="M631.4 184.4 H617.8 M631.4 187.9 H617.8 M631.4 181.70000000000002 C628.4 181.5 626.9 178.9 621.4 177.3 M631.4 190.70000000000002 C628.4 190.9 626.9 193.5 621.4 195.10000000000002 M649.4 184.4 H663.0 M649.4 187.9 H663.0 M649.4 181.70000000000002 C652.4 181.5 653.9 178.9 659.4 177.3 M649.4 190.70000000000002 C652.4 190.9 653.9 193.5 659.4 195.10000000000002 M638.6 177.3 V164.3 M642.1 177.3 V164.3 M635.0 177.3 C634.8 173.8 632.1999999999999 172.3 631.0 167.3 M645.8 177.3 C646.0 173.8 648.6 172.3 649.8 167.3 M638.6 195.3 V208.3 M642.1 195.3 V208.3 M635.0 195.3 C634.8 198.8 632.1999999999999 200.3 631.0 205.3 M645.8 195.3 C646.0 198.8 648.6 200.3 649.8 205.3" stroke="#242d4b" stroke-width="1.15" fill="none" stroke-linecap="round" stroke-linejoin="round"/>
<circle cx="617.8" cy="184.4" r="1.25" fill="#242d4b"/>
<circle cx="617.8" cy="187.9" r="1.25" fill="#242d4b"/>
<circle cx="621.4" cy="177.3" r="1.25" fill="#242d4b"/>
<circle cx="621.4" cy="195.1" r="1.25" fill="#242d4b"/>
<circle cx="638.6" cy="164.3" r="1.25" fill="#242d4b"/>
<circle cx="642.1" cy="164.3" r="1.25" fill="#242d4b"/>
<circle cx="631.0" cy="167.0" r="1.25" fill="#242d4b"/>
<circle cx="649.8" cy="167.0" r="1.25" fill="#242d4b"/>
<circle cx="663.0" cy="184.4" r="1.25" fill="#242d4b"/>
<circle cx="663.0" cy="187.9" r="1.25" fill="#242d4b"/>
<circle cx="659.4" cy="177.3" r="1.25" fill="#242d4b"/>
<circle cx="659.4" cy="195.1" r="1.25" fill="#242d4b"/>
<circle cx="638.6" cy="208.3" r="1.25" fill="#242d4b"/>
<circle cx="642.1" cy="208.3" r="1.25" fill="#242d4b"/>
<circle cx="631.0" cy="205.6" r="1.25" fill="#242d4b"/>
<circle cx="649.8" cy="205.6" r="1.25" fill="#242d4b"/>
<rect class="o" x="631.5" y="177.4" width="17.8" height="17.8" rx="1.8" fill="url(#chg)"/>
<path d="M684.2 222.9 L674.2 232.2" stroke="#242d4b" stroke-width="4.7" stroke-linecap="round" fill="none"/>
<path d="M684.2 222.9 L674.2 232.2" stroke="#f3cf62" stroke-width="2.4" stroke-linecap="round" fill="none"/>
<circle cx="692.6" cy="214.4" r="8.3" fill="#f3cf62" stroke="#242d4b" stroke-width="1.1"/>
<circle cx="692.6" cy="214.4" r="5.5" fill="#eef4fb" stroke="#242d4b" stroke-width="1.1"/>
<path d="M687.5 215.5 A5.2 5.2 0 0 0 697.7 215.5 Z" fill="#b9cde3"/>
</g>
<g id="arrows">
<g id="arw">
<path d="M181.9 170.3 L215.6 186.3 L188.8 186.3 Z" fill="#8ea9c8"/>
<path d="M181.9 202 L215.6 186.3 L188.8 186.3 Z" fill="#7793b7"/>
<path d="M181.9 170.3 L215.6 186.3 L181.9 202 L188.8 186.3 Z" fill="none" stroke="#242d4b" stroke-width="1.2" stroke-linejoin="round"/>
</g>
<use href="#arw" x="176.2"/>
<use href="#arw" x="353.7"/>
</g>
</svg>
</body>
</html>
